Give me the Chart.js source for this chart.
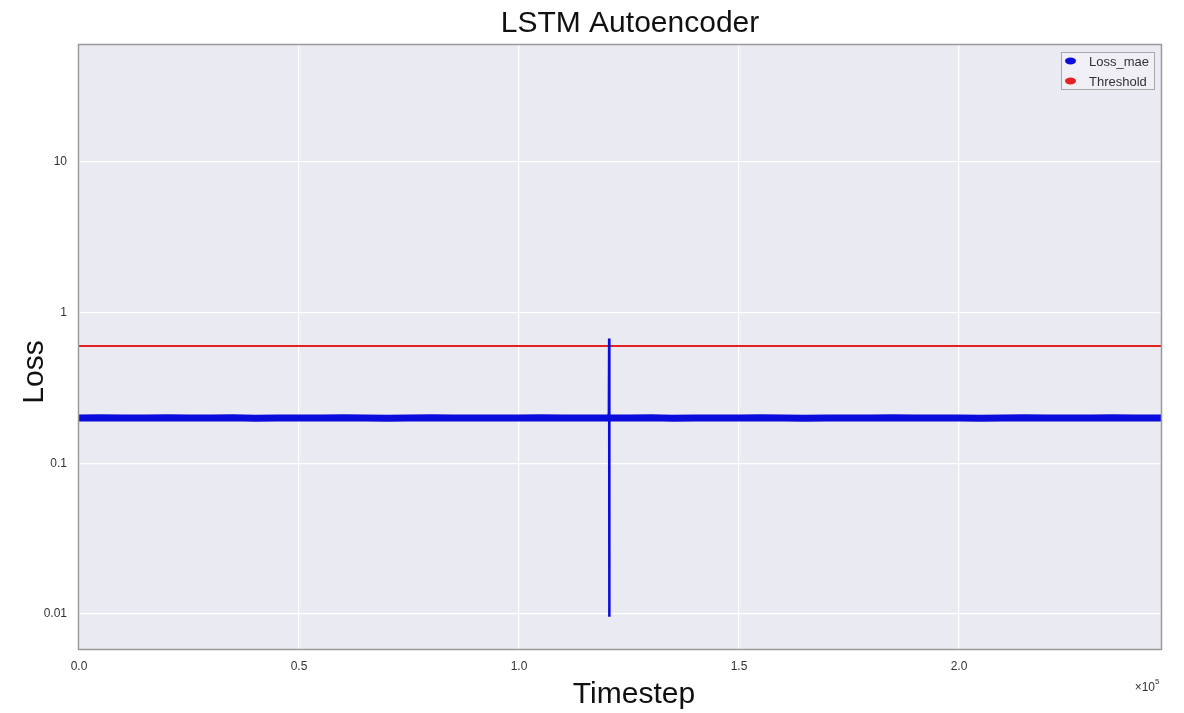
<!DOCTYPE html>
<html>
<head>
<meta charset="utf-8">
<title>LSTM Autoencoder</title>
<script src="https://cdn.jsdelivr.net/npm/chart.js@4.4.1/dist/chart.umd.min.js"></script>
<style>
  html, body { margin: 0; padding: 0; background: #fff; }
  #wrap { width: 1184px; height: 713px; position: relative; }
</style>
</head>
<body>
<div id="wrap"><canvas id="lossChart"></canvas></div>
<script>
// reconstruction loss per timestep (band is ~0.2 the whole way)
const lossSteps = [0, 5000, 10000, 15000, 20000, 25000, 30000, 35000, 40000, 45000,
  50000, 55000, 60000, 65000, 70000, 75000, 80000, 85000, 90000, 95000,
  100000, 105000, 110000, 115000, 120000, 125000, 130000, 135000, 140000, 145000,
  150000, 155000, 160000, 165000, 170000, 175000, 180000, 185000, 190000, 195000,
  200000, 205000, 210000, 215000, 220000, 225000, 230000, 235000, 240000, 245900];
const lossValues = [0.200, 0.201, 0.200, 0.200, 0.201, 0.200, 0.200, 0.201, 0.199, 0.200,
  0.200, 0.200, 0.201, 0.200, 0.199, 0.200, 0.201, 0.200, 0.200, 0.200,
  0.200, 0.201, 0.200, 0.200, 0.200, 0.200, 0.201, 0.199, 0.200, 0.200,
  0.200, 0.201, 0.200, 0.199, 0.200, 0.200, 0.200, 0.201, 0.200, 0.200,
  0.200, 0.199, 0.200, 0.201, 0.200, 0.200, 0.200, 0.201, 0.200, 0.200];

// the anomaly spike around step 120500
const spikeSteps = [120200, 120420, 120480, 120500, 120520, 120580, 120800];
const spikeValues = [0.200, 0.215, 0.673, 0.0096, 0.185, 0.205, 0.200];

const thresholdSteps = [0, 245900];
const thresholdValues = [0.6, 0.6];

const xTickValues = [0, 50000, 100000, 150000, 200000];
const xTickLabels = ["0.0", "0.5", "1.0", "1.5", "2.0"];
const yTickValues = [0.01, 0.1, 1, 10];
const yTickLabels = ["0.01", "0.1", "1", "10"];

const legendLabels = ["Loss_mae", "Threshold"];

const BLUE = "#0b0bdc";
const RED = "#e32222";
const FONT = '"Liberation Sans", Arial, Helvetica, sans-serif';

const toPoints = (xs, ys) => xs.map((x, i) => ({ x: x, y: ys[i] }));

const decor = {
  id: "decor",
  beforeDraw(chart) {
    const { ctx, chartArea: a } = chart;
    ctx.save();
    ctx.fillStyle = "#ffffff";
    ctx.fillRect(0, 0, chart.width, chart.height);
    ctx.fillStyle = "#eaeaf2";
    ctx.fillRect(a.left, a.top, a.right - a.left, a.bottom - a.top);
    ctx.restore();
  },
  afterDraw(chart) {
    const { ctx, chartArea: a } = chart;
    ctx.save();

    // frame
    ctx.strokeStyle = "#9a9a9a";
    ctx.lineWidth = 1.5;
    ctx.strokeRect(a.left - 0.5, a.top - 0.5, a.right - a.left + 1, a.bottom - a.top + 1);

    // titles
    ctx.fillStyle = "#111111";
    ctx.font = "30px " + FONT;
    ctx.textAlign = "center";
    ctx.textBaseline = "alphabetic";
    ctx.fillText("LSTM Autoencoder", 630, 32);
    ctx.fillText("Timestep", 634, 703);

    ctx.save();
    ctx.translate(43, 372);
    ctx.rotate(-Math.PI / 2);
    ctx.fillText("Loss", 0, 0);
    ctx.restore();

    // offset label
    ctx.fillStyle = "#333333";
    ctx.textAlign = "right";
    ctx.font = "12px " + FONT;
    ctx.fillText("\u00d710", 1155, 691);
    ctx.font = "8px " + FONT;
    ctx.textAlign = "left";
    ctx.fillText("5", 1155, 684);

    // legend
    const lx = 1061, ly = 52, lw = 93, lh = 37;
    ctx.fillStyle = "rgba(240,240,246,0.85)";
    ctx.fillRect(lx, ly, lw, lh);
    ctx.strokeStyle = "#a8a8a8";
    ctx.lineWidth = 1;
    ctx.strokeRect(lx + 0.5, ly + 0.5, lw, lh);
    const colors = [BLUE, RED];
    ctx.font = "13px " + FONT;
    ctx.textBaseline = "middle";
    legendLabels.forEach((label, i) => {
      const cy = 62 + i * 20;
      ctx.fillStyle = colors[i];
      ctx.beginPath();
      ctx.ellipse(1070.5, cy - 1, 5.5, 3.4, 0, 0, Math.PI * 2);
      ctx.fill();
      ctx.fillStyle = "#333333";
      ctx.fillText(label, 1089, cy);
    });

    ctx.restore();
  }
};

const ctx = document.getElementById("lossChart").getContext("2d");
const lossChart = new Chart(ctx, {
  type: "line",
  data: {
    datasets: [
      {
        label: "Loss_mae",
        data: toPoints(lossSteps, lossValues),
        borderColor: BLUE,
        borderWidth: 7,
        pointRadius: 0,
        tension: 0,
        borderJoinStyle: "round"
      },
      {
        label: "Loss_mae spike",
        data: toPoints(spikeSteps, spikeValues),
        borderColor: BLUE,
        borderWidth: 2.5,
        pointRadius: 0,
        tension: 0,
        borderJoinStyle: "bevel"
      },
      {
        label: "Threshold",
        data: toPoints(thresholdSteps, thresholdValues),
        borderColor: RED,
        borderWidth: 2,
        pointRadius: 0,
        tension: 0
      }
    ]
  },
  options: {
    responsive: true,
    maintainAspectRatio: false,
    animation: false,
    layout: {
      padding: { top: 45, right: 23, left: 0, bottom: 0 }
    },
    plugins: {
      legend: { display: false },
      title: { display: false },
      tooltip: { enabled: false }
    },
    scales: {
      x: {
        type: "linear",
        min: 0,
        max: 245900,
        afterBuildTicks: (scale) => {
          scale.ticks = xTickValues.map((v) => ({ value: v }));
        },
        afterFit: (scale) => {
          scale.height = 64;
        },
        ticks: {
          autoSkip: false,
          maxRotation: 0,
          padding: 10,
          color: "#333333",
          font: { family: FONT, size: 12 },
          callback: (value) => {
            const i = xTickValues.indexOf(value);
            return i >= 0 ? xTickLabels[i] : "";
          }
        },
        grid: {
          color: "#ffffff",
          lineWidth: 1.2,
          drawTicks: false
        },
        border: { display: false }
      },
      y: {
        type: "logarithmic",
        min: 0.00586,
        max: 59.8,
        afterBuildTicks: (scale) => {
          scale.ticks = yTickValues.map((v) => ({ value: v }));
        },
        afterFit: (scale) => {
          scale.width = 79;
        },
        ticks: {
          autoSkip: false,
          padding: 12,
          color: "#333333",
          font: { family: FONT, size: 12 },
          callback: (value) => {
            const i = yTickValues.indexOf(value);
            return i >= 0 ? yTickLabels[i] : "";
          }
        },
        grid: {
          color: "#ffffff",
          lineWidth: 1.2,
          drawTicks: false
        },
        border: { display: false }
      }
    }
  },
  plugins: [decor]
});
</script>
</body>
</html>
